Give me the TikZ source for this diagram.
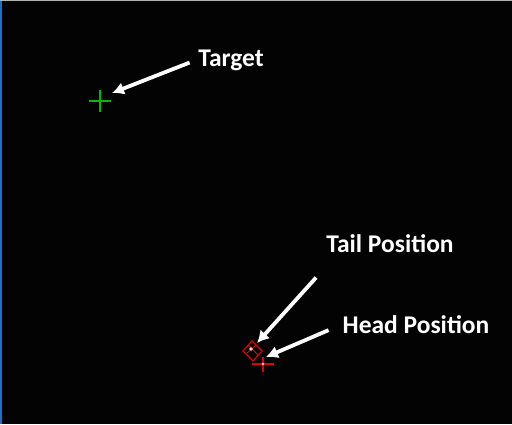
\documentclass[tikz,border=0pt]{standalone}
\usepackage{fontspec}
\setmainfont{Carlito}
\usetikzlibrary{arrows.meta}
\definecolor{bgdark}{RGB}{3,3,3}
\definecolor{edgeblue}{RGB}{30,110,200}
\definecolor{crossgreen}{RGB}{0,185,0}
\definecolor{markred}{RGB}{225,0,0}
\tikzset{
  label/.style={text=white,font=\bfseries\fontsize{25.5}{27}\selectfont,inner sep=2pt},
  pointer/.style={-{Latex[length=12pt,width=13pt]},white,line width=3.8pt}
}
\begin{document}
\begin{tikzpicture}[x=1pt,y=-1pt]
  \fill[bgdark] (0,0) rectangle (512,424);
  \useasboundingbox (0,0) rectangle (512,424);
  \draw[edgeblue,line width=2pt] (1,0) -- (1,424);
  \draw[gray!60,line width=0.8pt] (0,0.4) -- (512,0.4);

  \draw[crossgreen,line width=1.5pt] (89,101) -- (111,101);
  \draw[crossgreen,line width=1.5pt] (100,90) -- (100,112);

  \draw[markred,line width=1.2pt] (252,341) -- (262,351) -- (253,361) -- (243,351) -- cycle;
  \draw[markred,line width=0.8pt] (248,345) -- (258,355);
  \draw[markred,line width=0.8pt] (247,353) -- (256,345);
  \fill[white!85!red] (251,349) circle (1.8);
  \draw[markred,line width=1.2pt] (252,364) -- (274,364);
  \draw[markred,line width=1.2pt] (263,357) -- (263,372);
  \fill[white!85!red] (263,364) circle (1.4);

  \node[label] (target) at (231,60) {Target};
  \node[label] (tail) at (390,244) {Tail Position};
  \node[label] (head) at (416,325) {Head Position};

  \coordinate (targettip) at (112,93);
  \coordinate (tailtip) at (257,343);
  \coordinate (headtip) at (266,357);

  \draw[pointer,shorten <=7pt] (target.west) -- (targettip);
  \draw[pointer,shorten <=30pt] ([xshift=12pt]tail.south west) -- (tailtip);
  \draw[pointer,shorten <=13pt] (head.west) -- (headtip);
\end{tikzpicture}
\end{document}
